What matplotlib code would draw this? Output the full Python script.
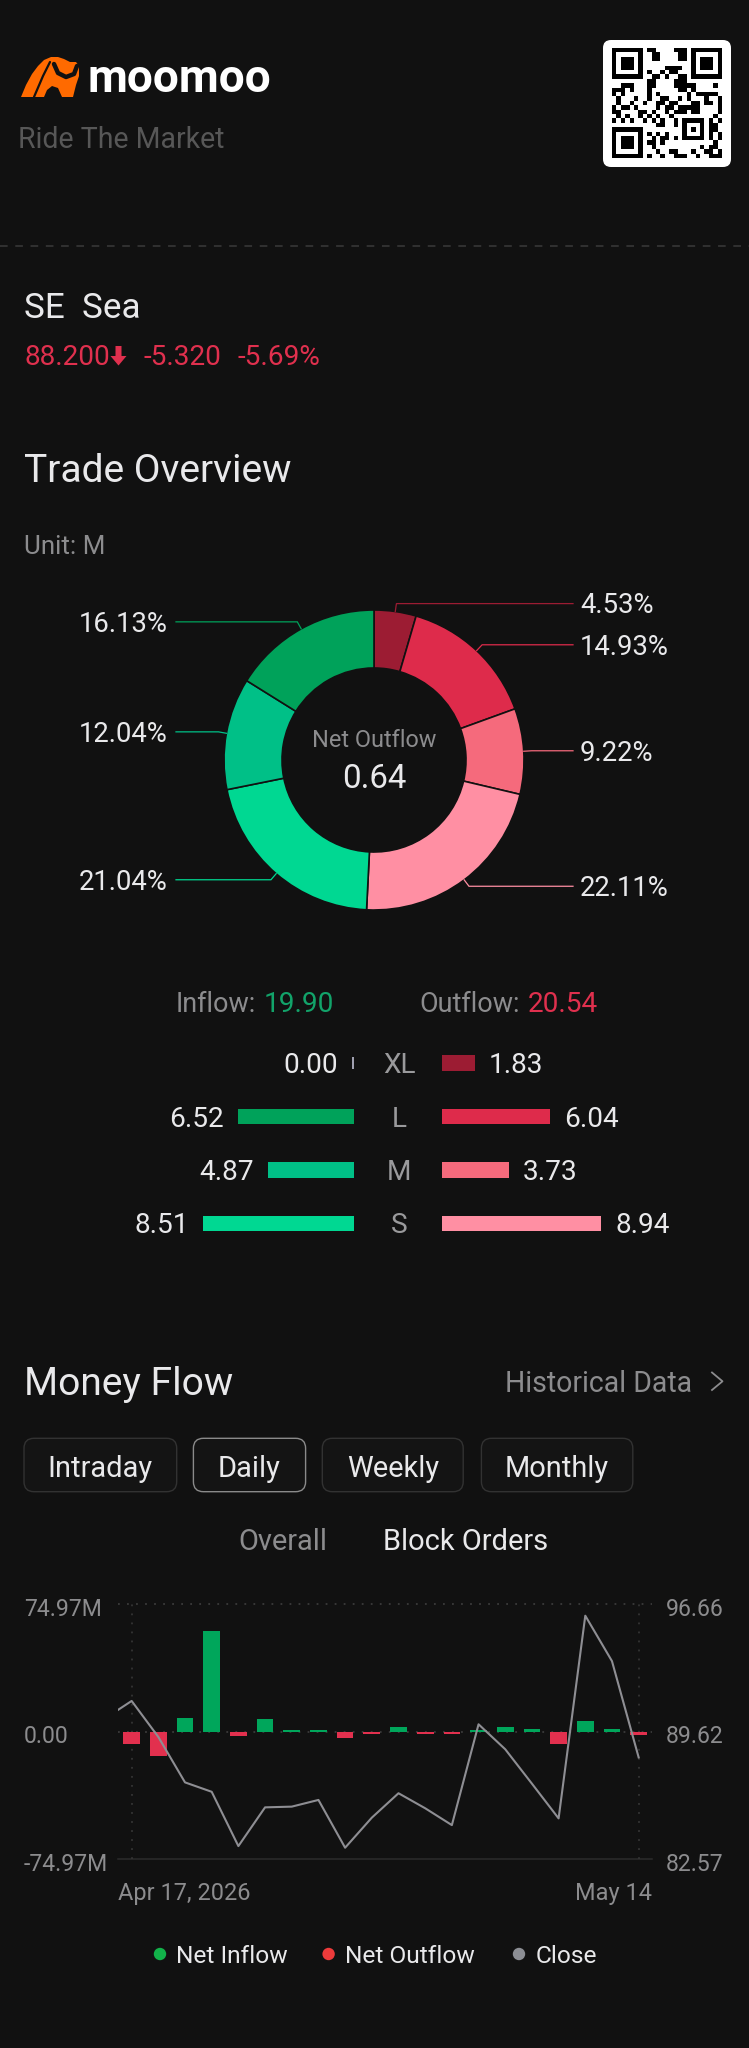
import numpy as np
import matplotlib
matplotlib.use("Agg")
import matplotlib.pyplot as plt
from matplotlib.patches import FancyBboxPatch, Polygon
import matplotlib.transforms as mtransforms

plt.rcParams['font.family'] = ['Roboto', 'DejaVu Sans']

# ---------------- data ----------------
brand = "moomoo"
slogan = "Ride The Market"
ticker = "SE"
company = "Sea"
last_price = "88.200"
price_change = "-5.320"
price_change_pct = "-5.69%"

pie_labels = ["4.53%", "14.93%", "9.22%", "22.11%", "21.04%", "12.04%", "16.13%"]
pie_values = [4.53, 14.93, 9.22, 22.11, 21.04, 12.04, 16.13]
net_label = "Net Outflow"
net_value = "0.64"
unit_label = "Unit: M"

size_classes = ["XL", "L", "M", "S"]
inflow_vals = [0.00, 6.52, 4.87, 8.51]
outflow_vals = [1.83, 6.04, 3.73, 8.94]
inflow_total = "19.90"
outflow_total = "20.54"

period_buttons = ["Intraday", "Daily", "Weekly", "Monthly"]
selected_period = "Daily"
flow_tabs = ["Overall", "Block Orders"]

flow_dates = ["Apr 17, 2026", "Apr 20", "Apr 21", "Apr 22", "Apr 23", "Apr 24",
              "Apr 27", "Apr 28", "Apr 29", "Apr 30", "May 1", "May 4", "May 5",
              "May 6", "May 7", "May 8", "May 11", "May 12", "May 13", "May 14"]
net_flow = [-7.06, -14.5, 8.4, 59.2, -2.7, 7.3, 1.0, 0.8, -3.7, -1.4,
            2.7, -1.4, -1.4, 1.0, 2.9, 1.8, -7.3, 6.3, 1.8, -1.6]
close_prev = 90.35
close_vals = [91.32, 89.33, 86.82, 86.30, 83.30, 85.44, 85.48, 85.85, 83.21, 84.87,
              86.22, 85.39, 84.46, 90.03, 88.65, 86.75, 84.83, 96.03, 93.52, 88.20]
flow_limit = 74.97
price_low, price_high = 82.57, 96.66
left_ticks = ["74.97M", "0.00", "-74.97M"]
right_ticks = ["96.66", "89.62", "82.57"]
legend_labels = ["Net Inflow", "Net Outflow", "Close"]

# ---------------- style ----------------
W, H = 749, 2048
BG = "#111111"
WHITE = "#E9E9EB"
GREY = "#8C8C8E"
RED_TXT = "#E0304E"
GREEN_TXT = "#12A36A"
OUT_COLORS = ["#9C1C33", "#DE2B4B", "#F56A7C", "#FF8FA3"]   # XL L M S
IN_COLORS = ["#00A25A", "#00A25A", "#00C087", "#00D892"]     # XL L M S
PIE_COLORS = OUT_COLORS + [IN_COLORS[3], IN_COLORS[2], IN_COLORS[1]]
BAR_GREEN = "#00A65B"
BAR_RED = "#E2304E"
LINE_GREY = "#8E8E93"


def pt(px):
    return px * 72.0 / 100.0


fig = plt.figure(figsize=(W / 100, H / 100), dpi=100, facecolor=BG)
bg = fig.add_axes([0, 0, 1, 1])
bg.set_xlim(0, W)
bg.set_ylim(H, 0)
bg.axis('off')


def px_axes(x0, y0, x1, y1):
    return fig.add_axes([x0 / W, 1 - y1 / H, (x1 - x0) / W, (y1 - y0) / H])


def T(x, y, s, px, color, ha='left', weight='normal', **kw):
    return bg.text(x, y, s, fontsize=pt(px), color=color, ha=ha, va='baseline',
                   fontweight=weight, **kw)


# ---------------- header ----------------
body = Polygon([(21, 97), (26, 85), (32, 74), (38, 66), (44, 60), (51, 57), (58, 57),
                (64, 59), (70, 62), (76, 62), (79, 66), (79, 76), (76, 85), (73, 97),
                (62, 97), (58, 88), (52, 86), (47, 90), (44, 97)],
               closed=True, facecolor="#FF6A00", edgecolor='none')
bg.add_patch(body)
bg.plot([34, 43, 50], [97, 76, 62], color=BG, lw=1.6, solid_capstyle='round')
bg.plot([54, 58, 66, 74, 77], [64, 73, 77, 74, 66], color=BG, lw=3.2, solid_capstyle='round')
T(88, 92, brand, 46, "#FFFFFF", weight='bold')
T(18, 148, slogan, 28.5, "#575757")

# QR code box
bg.add_patch(FancyBboxPatch((603, 40), 128, 127, boxstyle='round,pad=0,rounding_size=8',
                            facecolor='white', edgecolor='none'))
N = 25
qr = np.zeros((N, N))
for i in range(N):
    for j in range(N):
        qr[i, j] = 1.0 if ((i * i * 3 + j * 7 + i * j * 5 + (i ^ j)) % 7) < 3 else 0.0


def finder(r, c, size=7):
    qr[max(r - 1, 0):min(r + size + 1, N), max(c - 1, 0):min(c + size + 1, N)] = 0
    qr[r:r + size, c:c + size] = 1
    qr[r + 1:r + size - 1, c + 1:c + size - 1] = 0
    qr[r + 2:r + size - 2, c + 2:c + size - 2] = 1


finder(0, 0)
finder(0, N - 7)
finder(N - 7, 0)
finder(16, 16, 5)
bg.imshow(qr, cmap='gray_r', extent=(612, 722, 158, 48), interpolation='nearest',
          aspect='auto', zorder=3)
bg.set_xlim(0, W)
bg.set_ylim(H, 0)

bg.plot([0, W], [245.7, 245.7], color="#3a3a3a", lw=1.1, ls=(0, (5, 5)))

# ---------------- ticker ----------------
T(24, 318.3, f"{ticker}  {company}", 35, WHITE)
T(24, 365.3, last_price, 28, RED_TXT)
bg.add_patch(Polygon([(115.5, 346), (121.5, 346), (121.5, 356), (126.5, 356),
                      (118.5, 365.5), (110.5, 356), (115.5, 356)],
                     closed=True, facecolor=RED_TXT, edgecolor='none'))
T(143, 365.3, price_change, 28, RED_TXT)
T(237, 365.3, price_change_pct, 28, RED_TXT)

# ---------------- trade overview ----------------
T(24, 481.7, "Trade Overview", 39, WHITE)
T(24, 554, unit_label, 26, GREY)

CX, CY, R = 374, 760, 150
ax_pie = px_axes(CX - R, CY - R, CX + R, CY + R)
ax_pie.pie(pie_values, colors=PIE_COLORS, startangle=90, counterclock=False, radius=1,
           wedgeprops=dict(width=58 / 150, edgecolor=BG, linewidth=1.2))
ax_pie.set_xlim(-1, 1)
ax_pie.set_ylim(-1, 1)
ax_pie.set_aspect('equal')
ax_pie.axis('off')

total = sum(pie_values)
cum = 0.0
lab_px = 27.5
for lab, v, col in zip(pie_labels, pie_values, PIE_COLORS):
    mid = (cum + v / 2) / total * 2 * np.pi
    cum += v
    sx, cy_ = np.sin(mid), np.cos(mid)
    p1 = (sx * 1.0, cy_ * 1.0)
    p2 = (sx * (1 + 8 / R), cy_ * (1 + 8 / R))
    right = sx >= 0
    xend = (573 - CX) / R if right else (176 - CX) / R
    ax_pie.plot([p1[0], p2[0], xend], [p1[1], p2[1], p2[1]], color=col, lw=0.9,
                clip_on=False, solid_joinstyle='miter')
    xt = (580 - CX) / R if right else (168 - CX) / R
    ax_pie.text(xt, p2[1] - (0.711 * lab_px / 2) / R, lab, fontsize=pt(lab_px), color=WHITE,
                ha='left' if right else 'right', va='baseline', clip_on=False)

T(CX, 746.7, net_label, 23.5, GREY, ha='center')
T(CX, 788.3, net_value, 33, WHITE, ha='center')

# inflow / outflow header
for lab_txt, val_txt, x0, col in [("Inflow:", inflow_total, 175.7, GREEN_TXT),
                                  ("Outflow:", outflow_total, 419, RED_TXT)]:
    lab_art = T(x0, 1011.7, lab_txt, 27, GREY)
    bg.annotate(val_txt, xy=(1, 0), xycoords=lab_art, xytext=(8, 0),
                textcoords='offset pixels', ha='left', va='bottom',
                fontsize=pt(28), color=col)

ROW0, ROWH = 1063.2, 53.37
SCALE = 17.8  # px per unit
XMAX = 11.0
y_top = ROW0 - ROWH / 2
y_bot = ROW0 + ROWH * 3.5
ax_in = px_axes(354.3 - XMAX * SCALE, y_top, 354.3, y_bot)
ax_out = px_axes(442.2, y_top, 442.2 + XMAX * SCALE, y_bot)
rows = np.arange(len(size_classes))
in_draw = [v if v > 0 else 0.11 for v in inflow_vals]
in_cols = [c if v > 0 else "#A0A0B0" for c, v in zip(IN_COLORS, inflow_vals)]
in_h = [0.29 if v > 0 else 0.22 for v in inflow_vals]
ax_in.barh(rows, in_draw, height=in_h, color=in_cols)
ax_out.barh(rows, outflow_vals, height=0.29, color=OUT_COLORS)
for a in (ax_in, ax_out):
    a.set_ylim(3.5, -0.5)
    a.axis('off')
ax_in.set_xlim(XMAX, 0)
ax_out.set_xlim(0, XMAX)
for r, v, d in zip(rows, inflow_vals, in_draw):
    ax_in.annotate(f"{v:.2f}", (d, r), xytext=(-14, -10), textcoords='offset pixels',
                   ha='right', va='baseline', fontsize=pt(28), color=WHITE)
for r, v in zip(rows, outflow_vals):
    ax_out.annotate(f"{v:.2f}", (v, r), xytext=(14, -10), textcoords='offset pixels',
                    ha='left', va='baseline', fontsize=pt(28), color=WHITE)
for r, lab in zip(rows, size_classes):
    T(399, ROW0 + r * ROWH + 10, lab, 28, "#9A9A9C", ha='center')

# ---------------- money flow ----------------
T(24, 1395, "Money Flow", 39, WHITE)
T(692.5, 1391.7, "Historical Data", 28.5, GREY, ha='right')
bg.plot([712, 722.5, 712], [1372.5, 1381.3, 1390], color=GREY, lw=1.3)

btn_x = [(24, 176.7), (193.4, 305.6), (322.3, 463.2), (481.4, 632.8)]
for lab, (x0, x1) in zip(period_buttons, btn_x):
    sel = lab == selected_period
    bg.add_patch(FancyBboxPatch((x0, 1438.3), x1 - x0, 53.4,
                                boxstyle='round,pad=0,rounding_size=10',
                                facecolor="#141414",
                                edgecolor="#8A8A8A" if sel else "#323232",
                                linewidth=1.0))
    T((x0 + x1) / 2, 1476.7, lab, 29, WHITE, ha='center')

T(282.4, 1550, flow_tabs[0], 29, GREY, ha='center')
T(466, 1550, flow_tabs[1], 29, WHITE, ha='center')

ax_mf = px_axes(118.3, 1604.3, 652, 1859.3)
ax_mf.set_xlim(-0.5, 19.5)
ax_mf.set_ylim(-flow_limit, flow_limit)
ax_mf.axis('off')
xi = np.arange(len(net_flow))
bar_cols = [BAR_GREEN if v >= 0 else BAR_RED for v in net_flow]
ax_mf.axhline(flow_limit, color="#3a3a3a", lw=1.3, ls=(0, (1, 4)), clip_on=False, zorder=1)
ax_mf.axhline(0, color="#3a3a3a", lw=1.3, ls=(0, (1, 4)), zorder=1)
ax_mf.axhline(-flow_limit, color="#2c2c2c", lw=1.1, clip_on=False, zorder=1)
ax_mf.vlines([xi[0], xi[-1]], -flow_limit, flow_limit, colors="#343434", lw=1.3,
             linestyles=[(0, (1, 4))], zorder=1)
ax_mf.bar(xi, net_flow, width=0.625, color=bar_cols, zorder=3)
ax_pr = ax_mf.twinx()
ax_pr.set_ylim(price_low, price_high)
ax_pr.axis('off')
ax_pr.plot(np.arange(-1, len(close_vals)), [close_prev] + close_vals, color=LINE_GREY,
           lw=1.5, zorder=4)

off = mtransforms.ScaledTranslation(0, -11.5 / 100, fig.dpi_scale_trans)
tl = mtransforms.blended_transform_factory(bg.transData, ax_mf.transData) + off
tr = mtransforms.blended_transform_factory(bg.transData, ax_pr.transData) + off
for lab, v in zip(left_ticks, [flow_limit, 0, -flow_limit]):
    bg.text(24, v, lab, transform=tl, fontsize=pt(23), color=GREY, ha='left', va='baseline')
for lab, v in zip(right_ticks, [price_high, (price_high + price_low) / 2, price_low]):
    bg.text(723.5, v, lab, transform=tr, fontsize=pt(23), color=GREY, ha='right', va='baseline')

T(118.4, 1900, flow_dates[0], 23.5, GREY, ha='left')
T(652, 1900, flow_dates[-1], 23.5, GREY, ha='right')

leg_cols = ["#12B24A", "#EE3B3B", "#8C8E94"]
leg_x = [160, 328.6, 519]
for lab, c, x in zip(legend_labels, leg_cols, leg_x):
    bg.scatter([x], [1954], s=(12.4 * 0.72) ** 2, color=c, edgecolors='none')
    T(x + 16.5, 1963, lab, 24.5, WHITE)

fig.savefig("out.png", dpi=100, facecolor=BG)
